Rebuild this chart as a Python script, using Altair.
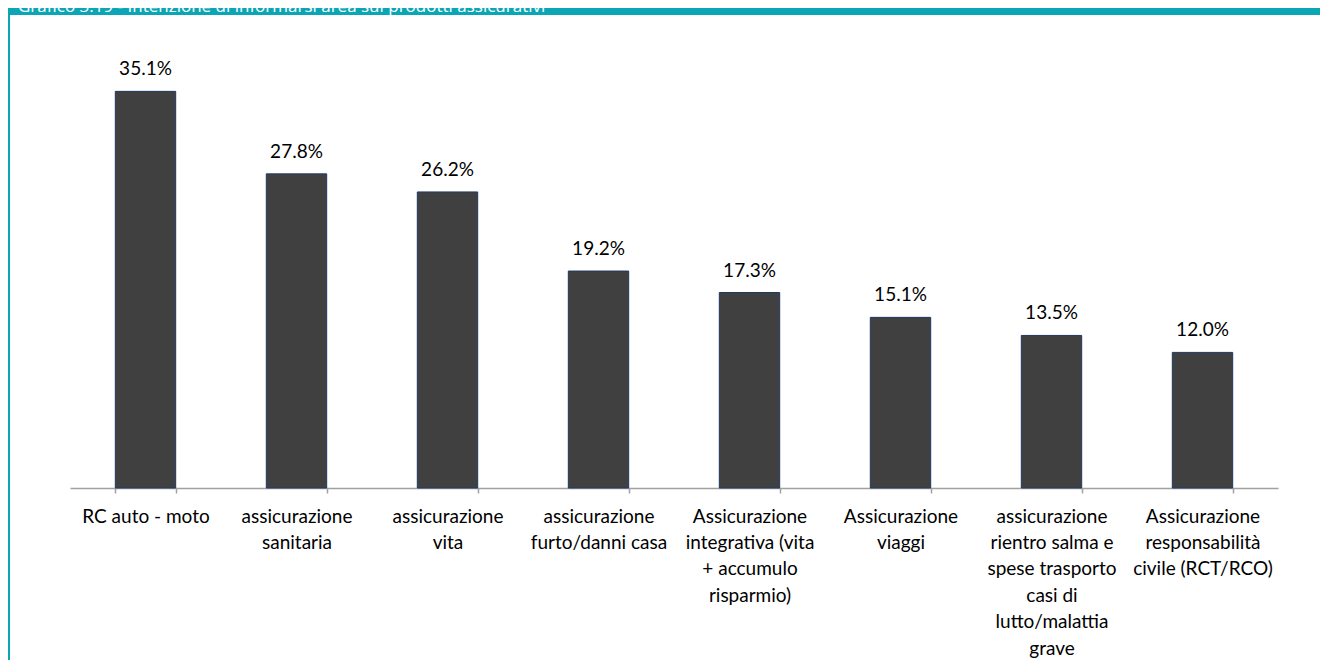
import altair as alt
import pandas as pd

label_lines = [
    ["RC auto - moto"],
    ["assicurazione", "sanitaria"],
    ["assicurazione", "vita"],
    ["assicurazione", "furto/danni casa"],
    ["Assicurazione", "integrativa (vita", "+ accumulo", "risparmio)"],
    ["Assicurazione", "viaggi"],
    ["assicurazione", "rientro salma e", "spese trasporto", "casi di", "lutto/malattia", "grave"],
    ["Assicurazione", "responsabilità", "civile (RCT/RCO)"],
]
values = [35.1, 27.8, 26.2, 19.2, 17.3, 15.1, 13.5, 12.0]
title_text = "Grafico 3.19 - Intenzione di informarsi area sui prodotti assicurativi"

categories = ["\n".join(l) for l in label_lines]
df = pd.DataFrame({"cat": categories, "val": values})
df["lbl"] = [f"{v:.1f}%" for v in values]

FONT = "Lato"
TEAL = "#0BA6B5"
PW, PH = 1208, 452
PL, PT = 62, 28

x = alt.X("cat:N", sort=None, title=None,
          scale=alt.Scale(paddingInner=0.6, paddingOuter=0.3),
          axis=alt.Axis(labelAngle=0, labelExpr="split(datum.label, '\\n')",
                        labelFont=FONT, labelFontSize=19, labelColor="#000000",
                        labelLineHeight=26.4, labelPadding=14, labelLimit=0,
                        tickBand="extent", tickSize=5, tickColor="#A0A0A0",
                        domainColor="#A0A0A0", domainWidth=1.5, tickWidth=1.5,
                        labelBaseline="top"))
y = alt.Y("val:Q", scale=alt.Scale(domain=[0, 40]), axis=None)

bars = alt.Chart(df).mark_bar(color="#404040", stroke="#1F3864", strokeWidth=1).encode(x=x, y=y)
texts = alt.Chart(df).mark_text(font=FONT, fontSize=19, baseline="alphabetic", dy=-16,
                                color="#000000").encode(x=x, y=y, text="lbl:N")

one = alt.Data(values=[{"a": 1}])
topbar = alt.Chart(one).mark_rect(color=TEAL).encode(
    x=alt.value(-PL), x2=alt.value(PW + 60), y=alt.value(-PT), y2=alt.value(-PT + 7))
leftbar = alt.Chart(one).mark_rect(color=TEAL).encode(
    x=alt.value(-PL), x2=alt.value(-PL + 2), y=alt.value(-PT), y2=alt.value(PH + 172))
title = alt.Chart(one).mark_text(font="Open Sans", fontSize=17, color="#FFFFFF",
                                 align="left", baseline="alphabetic").encode(
    x=alt.value(-PL + 10), y=alt.value(-PT + 4), text=alt.value(title_text))

chart = alt.layer(topbar, leftbar, bars, texts, title).properties(
    width=PW, height=PH,
    padding={"left": PL, "top": PT, "right": 42, "bottom": 172},
    autosize=alt.AutoSizeParams(type="none"),
).configure_view(stroke=None)

chart.save("out.html", embed_options={"renderer": "svg", "actions": False})
